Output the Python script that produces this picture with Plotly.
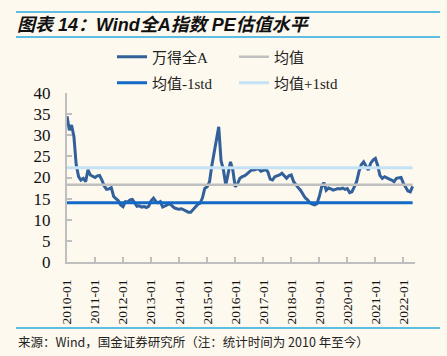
import plotly.graph_objects as go
import pandas as pd

# ---------------- data ----------------
dates = pd.date_range("2010-01-01", "2022-05-01", freq="MS").strftime("%Y-%m-%d").tolist()

pe_values = [
    # 2010
    34.5, 31.2, 32.4, 29.7, 23.0, 20.2, 19.4, 19.8, 19.0, 21.8, 20.6, 20.3,
    # 2011
    20.0, 20.4, 20.5, 19.4, 18.0, 17.2, 17.3, 17.6, 15.5, 15.0, 14.5, 13.5,
    # 2012
    13.1, 14.3, 14.2, 14.7, 14.8, 14.0, 13.2, 13.3, 13.0, 13.1, 12.9, 13.2,
    # 2013
    14.5, 15.1, 14.4, 14.0, 14.3, 13.0, 13.2, 13.5, 13.8, 13.3, 12.8, 12.6,
    # 2014
    12.5, 12.6, 12.3, 12.0, 11.8, 11.8, 12.3, 13.0, 13.6, 13.9, 15.2, 17.4,
    # 2015
    17.8, 19.0, 22.6, 26.0, 28.8, 32.0, 24.0, 21.8, 18.2, 21.0, 23.7, 21.8,
    # 2016
    17.8, 18.5, 19.8, 20.2, 20.4, 20.8, 21.4, 21.8, 21.8, 21.9, 22.1, 21.5,
    # 2017
    21.8, 21.9, 21.4, 19.6, 19.4, 20.2, 20.4, 20.6, 21.0, 20.5, 19.8, 20.4,
    # 2018
    20.6, 19.0, 18.2, 17.6, 17.0, 15.9, 15.2, 14.7, 14.0, 13.7, 13.5, 13.8,
    # 2019
    15.5, 17.8, 18.8, 17.0, 17.5, 17.3, 17.0, 17.2, 17.4, 17.3, 17.5, 17.2,
    # 2020
    17.4, 16.4, 16.6, 17.8, 19.0, 21.4, 23.0, 23.7, 22.8, 21.8, 23.4, 24.1,
    # 2021
    24.5, 22.8, 20.5, 19.8, 20.2, 19.8, 19.6, 19.4, 19.0, 19.8, 19.9, 20.0,
    # 2022
    18.6, 17.8, 16.8, 16.6, 17.9,
]

mean_value = 18.3
mean_minus_std = 14.0
mean_plus_std = 22.3

tick_dates = [f"{y}-01-01" for y in range(2010, 2023)]
tick_labels = [f"{y}-01" for y in range(2010, 2023)]

series_names = ["万得全A", "均值", "均值-1std", "均值+1std"]

title_text = "图表 14：Wind全A指数 PE估值水平"
source_text = "来源：Wind，国金证券研究所（注：统计时间为 2010 年至今）"

# ---------------- styling ----------------
W, H = 447, 356
L, R, T, B = 67, 32, 93, 94
plot_w = W - L - R
plot_h = H - T - B

BG = "#fdf9ef"
MAIN = "#31609b"
MEAN = "#bfbfbf"
LOW = "#1269c6"
HIGH = "#c3e2f5"
CYAN = "#2aa9e0"
SERIF = "Liberation Serif, Noto Sans CJK SC, serif"
CJK = "Noto Sans CJK SC, sans-serif"


def px_x(x):
    return (x - L) / plot_w


def px_y(y):
    return (H - B - y) / plot_h


n = len(dates)
fig = go.Figure()
fig.add_trace(go.Scatter(x=dates, y=pe_values, mode="lines", name=series_names[0],
                         line=dict(color=MAIN, width=3), legend="legend"))
fig.add_trace(go.Scatter(x=dates, y=[mean_value] * n, mode="lines", name=series_names[1],
                         line=dict(color=MEAN, width=2.5), legend="legend"))
fig.add_trace(go.Scatter(x=dates, y=[mean_minus_std] * n, mode="lines", name=series_names[2],
                         line=dict(color=LOW, width=3), legend="legend2"))
fig.add_trace(go.Scatter(x=dates, y=[mean_plus_std] * n, mode="lines", name=series_names[3],
                         line=dict(color=HIGH, width=3), legend="legend2"))

legend_common = dict(orientation="h", xanchor="left", yanchor="middle",
                     xref="container", yref="container",
                     bgcolor="rgba(0,0,0,0)", entrywidth=77, entrywidthmode="pixels",
                     font=dict(family=SERIF, size=15, color="#222"),
                     itemwidth=30, tracegroupgap=0)

shapes = []
for ypx in (12, 37, 328):
    shapes.append(dict(type="line", xref="paper", yref="paper",
                       x0=px_x(16), x1=px_x(440), y0=px_y(ypx), y1=px_y(ypx),
                       line=dict(color=CYAN, width=1.5)))

fig.update_layout(
    width=W, height=H,
    margin=dict(l=L, r=R, t=T, b=B, autoexpand=False),
    paper_bgcolor=BG, plot_bgcolor=BG,
    showlegend=True,
    legend=dict(x=112 / W, y=1 - 57 / H, **legend_common),
    legend2=dict(x=112 / W, y=1 - 83 / H, **legend_common),
    title=dict(text="<b><i>" + title_text + "</i></b>", xref="container", yref="container",
               x=17 / W, xanchor="left", y=1 - 25 / H, yanchor="middle",
               font=dict(family="Liberation Sans, Noto Sans CJK SC, sans-serif", size=18, color="#111")),
    shapes=shapes,
    annotations=[dict(text=source_text, xref="paper", yref="paper", x=px_x(16), y=px_y(341),
                      xanchor="left", yanchor="middle", showarrow=False,
                      font=dict(family=CJK, size=12.5, color="#222"))],
    xaxis=dict(type="date", range=["2010-01-01", "2022-06-01"], automargin=False,
               tickvals=tick_dates, ticktext=tick_labels, tickangle=-90,
               ticks="inside", ticklen=5, tickcolor=MEAN, tickwidth=1.5,
               showline=True, linecolor=MEAN, linewidth=2, showgrid=False, zeroline=False,
               tickfont=dict(family=SERIF, size=13.5, color="#111"), ticklabelstandoff=10),
    yaxis=dict(range=[0, 40], dtick=5, ticks="inside", ticklen=5, tickcolor=MEAN, tickwidth=1.5,
               automargin=False,
               showline=True, linecolor=MEAN, linewidth=2, showgrid=False, zeroline=False,
               tickfont=dict(family=SERIF, size=17, color="#111"), ticklabelstandoff=11),
)

fig.write_html("out.html", config={"displayModeBar": False},
               post_script="document.body.style.margin='0';")
